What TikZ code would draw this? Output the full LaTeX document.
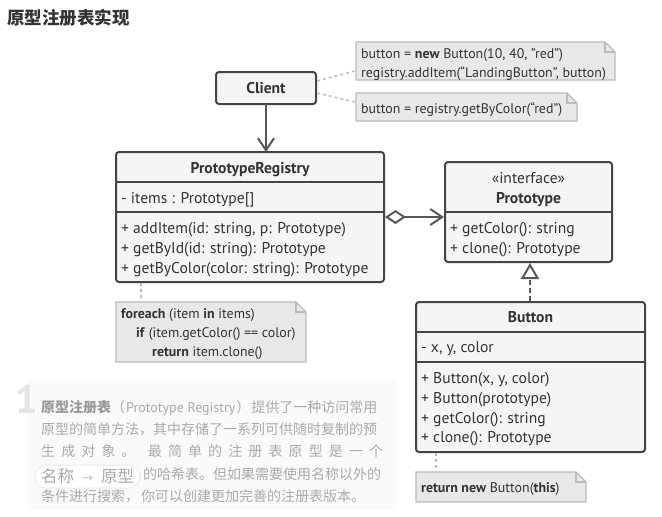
\documentclass[tikz,border=0pt]{standalone}
\usepackage{fontspec}
\setmainfont{PT Sans}
\newfontfamily\cjk{Noto Sans CJK SC}
\usetikzlibrary{arrows.meta}
\definecolor{boxline}{HTML}{444444}
\definecolor{boxfill}{HTML}{F5F5F5}
\definecolor{txtcol}{HTML}{333333}
\definecolor{notefill}{HTML}{E8E8E8}
\definecolor{noteline}{HTML}{BBBBBB}
\definecolor{fadetxt}{HTML}{AAAAAA}
\definecolor{fadebold}{HTML}{999999}
\definecolor{fadebg}{HTML}{FAFAFA}
\definecolor{fadeone}{HTML}{E4E4E4}
\newcommand\mknote[5]{%
  \draw[notestyle] (#2,#3) -- (#4-10,#3) -- (#4,#3+10) -- (#4,#5) -- (#2,#5) -- cycle;
  \draw[noteline, line width=1.2pt] (#4-10,#3) -- (#4-10,#3+10) -- (#4,#3+10);
  \node[inner sep=0] (#1) at ({(#2+#4)/2},{(#3+#5)/2}) {};
}
\begin{document}
\begin{tikzpicture}[x=1pt,y=-1pt,
  umlbox/.style={draw=boxline, fill=boxfill, line width=2pt, rounded corners=3pt, anchor=north west, inner sep=0, outer sep=0},
  sep/.style={draw=boxline, line width=2pt},
  txt/.style={anchor=base west, inner sep=0, text=txtcol, font=\fontsize{15.6}{18}\selectfont},
  ctxt/.style={anchor=base, inner sep=0, text=txtcol, font=\fontsize{15.6}{18}\selectfont},
  btxt/.style={anchor=base, inner sep=0, text=txtcol, font=\fontsize{15.6}{18}\selectfont\bfseries},
  ntxt/.style={anchor=base west, inner sep=0, text=txtcol, font=\fontsize{13.9}{16}\selectfont},
  notestyle/.style={draw=noteline, fill=notefill, line width=1.2pt},
  conn/.style={draw=boxline!90, line width=2pt},
  dashconn/.style={draw=noteline, line width=1.5pt, dash pattern=on 3pt off 3pt},
  ftxt/.style={anchor=base west, inner sep=0, text=fadetxt, font=\cjk\fontsize{14}{16}\selectfont},
]
\useasboundingbox (0,0) rectangle (662,517);
\fill[white] (0,0) rectangle (662,517);

% title
\node[anchor=base west, inner sep=0, text=txtcol, font=\cjk\bfseries\fontsize{17.5}{20}\selectfont] (title) at (7,24) {原型注册表实现};

% Client
\node[umlbox, minimum width=100pt, minimum height=32pt] (client) at (216,72) {};
\node[btxt] (clientt) at (266,93) {Client};

% Registry
\node[umlbox, minimum width=268pt, minimum height=130pt] (reg) at (116,152) {};
\draw[sep] (116,182) -- (384,182);
\draw[sep] (116,212) -- (384,212);
\node[btxt] (regt) at (250,173) {PrototypeRegistry};
\node[txt] (regf) at (121,203) {- items : Prototype[]};
\node[txt] (regm1) at (121,233) {+ addItem(id: string, p: Prototype)};
\node[txt] (regm2) at (121,253) {+ getById(id: string): Prototype};
\node[txt] (regm3) at (121,273) {+ getByColor(color: string): Prototype};

% Prototype
\node[umlbox, minimum width=167pt, minimum height=100pt] (proto) at (445,162) {};
\draw[sep] (445,212) -- (612,212);
\node[ctxt] (protos) at (528.5,183) {«interface»};
\node[btxt] (protot) at (528.5,203) {Prototype};
\node[txt] (protom1) at (450,233) {+ getColor(): string};
\node[txt] (protom2) at (450,253) {+ clone(): Prototype};

% Button
\node[umlbox, minimum width=229pt, minimum height=150pt] (button) at (416,302) {};
\draw[sep] (416,332) -- (645,332);
\draw[sep] (416,362) -- (645,362);
\node[btxt] (buttont) at (530.5,322) {Button};
\node[txt] (buttonf) at (421,352) {- x, y, color};
\node[txt] (buttonm1) at (421,383) {+ Button(x, y, color)};
\node[txt] (buttonm2) at (421,403) {+ Button(prototype)};
\node[txt] (buttonm3) at (421,423) {+ getColor(): string};
\node[txt] (buttonm4) at (421,442) {+ clone(): Prototype};

% notes
\mknote{noteA}{356}{42}{615}{80}
\node[ntxt] (noteA1) at (361,58) {button = \textbf{new} Button(10, 40, "red")};
\node[ntxt] (noteA2) at (361,77) {registry.addItem(“LandingButton”, button)};
\mknote{noteB}{356}{93}{577}{121}
\node[ntxt] (noteB1) at (361,113) {button = registry.getByColor(“red”)};
\mknote{noteC}{116}{302}{306}{362}
\node[ntxt] (noteC1) at (121,318) {\textbf{foreach} (item \textbf{in} items)};
\node[ntxt] (noteC2) at (136,337) {\textbf{if} (item.getColor() == color)};
\node[ntxt] (noteC3) at (152,356) {\textbf{return} item.clone()};
\mknote{noteD}{416}{472}{586}{502}
\node[ntxt] (noteD1) at (421,492) {\textbf{return new} Button(\textbf{this})};

% connectors
\coordinate (cA) at (317,81);
\coordinate (cB) at (317,93);
\coordinate (nA) at (355,71);
\coordinate (nB) at (355,102);
\draw[dashconn] (cA) -- (nA);
\draw[dashconn] (cB) -- (nB);
\coordinate (rC) at (141,283);
\coordinate (nC) at (141,301);
\draw[dashconn] (rC) -- (nC);
\coordinate (bD) at (436,453);
\coordinate (nD) at (436,471);
\draw[dashconn] (bD) -- (nD);

\draw[conn, -{Straight Barb[length=12pt,width=16pt,line width=2pt]}] (client.south) -- (client.south |- reg.north);
\coordinate (aggS) at (385,217);
\coordinate (aggE) at (444,217);
\draw[conn, {Diamond[open,fill=white,length=21pt,width=14pt,line width=2pt]}-{Straight Barb[length=12pt,width=16pt,line width=2pt]}] (aggS) -- (aggE);
\coordinate (realS) at (530,301);
\coordinate (realE) at (530,263);
\draw[conn, dash pattern=on 5pt off 3pt, -{Triangle[open,fill=white,length=16pt,width=18pt,line width=2pt]}] (realS) -- (realE);

% faded description
\fill[fadebg] (28,381) rectangle (396,511);
\node[anchor=base west, inner sep=0, text=fadeone, font=\bfseries\fontsize{40}{40}\selectfont] (one) at (15,413) {1};
\node[ftxt] (p1) at (41,412) {\textcolor{fadebold}{\bfseries 原型注册表}（\hspace{1pt}{\fontspec{PT Sans}Prototype Registry}\hspace{1pt}）\hspace{1pt}提供了一种访问常用};
\node[ftxt] (p2) at (41,434) {原型的简单方法，其中存储了一系列可供随时复制的预};
\node[ftxt] (p3) at (41,456) {\makebox[342pt][s]{生\hfill 成\hfill 对\hfill 象\hfill 。\hfill\hfill 最\hfill 简\hfill 单\hfill 的\hfill 注\hfill 册\hfill 表\hfill 原\hfill 型\hfill 是\hfill 一\hfill 个}};
\draw[draw=black!8, fill=white, line width=1pt, rounded corners=11pt] (35,465) rectangle (140,488);
\node[anchor=base west, inner sep=0, text=fadetxt, font=\cjk\fontsize{16.5}{18}\selectfont] (pill) at (41,482) {名称\hspace{8pt}{\fontsize{11}{11}\selectfont →}\hspace{8pt}原型};
\node[ftxt] (p4) at (143,479) {的哈希表。但如果需要使用名称以外的};
\node[ftxt] (p5) at (41,501) {条件进行搜索，\hspace{2pt}你可以创建更加完善的注册表版本。};
\end{tikzpicture}
\end{document}
